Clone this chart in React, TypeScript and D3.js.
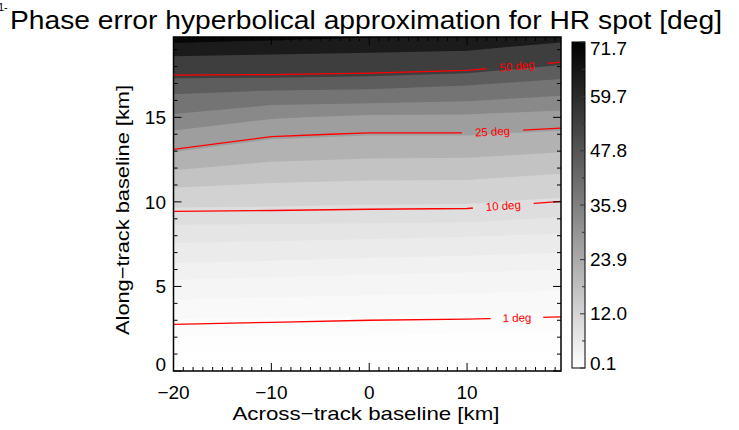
import React, { useMemo } from 'react';
import * as d3 from 'd3';

// grid nodes of the computed field (km)
const acrossNodes = [-20, -10, 0, 10, 20];
const alongNodes = [0, 1, 2, 3, 4, 5, 6, 7, 8, 9, 10, 11, 12, 13, 14, 15, 16, 17, 18, 19, 20];

// phase error [deg] along the along-track nodes, one array per across-track node
const errAtM20 = [0.1, 0.15, 0.54, 1.15, 1.98, 3.0, 4.25, 5.7, 7.1, 8.8, 11.5, 15.3, 19.5, 24.5, 29.3, 34.6, 40.3, 46.0, 54.0, 63.9, 74.4];
const errAtM10 = [0.1, 0.14, 0.5, 1.07, 1.85, 2.85, 4.05, 5.5, 7.0, 8.75, 11.3, 14.3, 17.6, 21.3, 25.6, 31.0, 37.5, 45.8, 53.8, 62.5, 72.5];
const errAt0 = [0.1, 0.13, 0.47, 1.0, 1.75, 2.7, 3.85, 5.25, 6.8, 8.7, 11.0, 13.9, 17.0, 20.5, 24.6, 29.5, 37.0, 45.2, 53.0, 61.5, 70.5];
const errAt10 = [0.1, 0.12, 0.44, 0.95, 1.66, 2.6, 3.7, 5.05, 6.6, 8.6, 10.9, 13.8, 16.8, 20.4, 24.6, 29.4, 36.0, 43.2, 52.0, 60.5, 69.0];
const errAt20 = [0.1, 0.11, 0.4, 0.86, 1.53, 2.41, 3.49, 4.79, 6.28, 7.98, 9.89, 12.56, 15.7, 19.2, 23.2, 28.1, 33.8, 40.4, 47.6, 55.9, 65.0];

// grey fill levels and labelled contours
const bandLevels = [0.15, 0.55, 1.2, 2.2, 3.5, 4.8, 6.5, 8.2, 10.6, 14.7, 19, 24.3, 30.5, 35.7, 42.4, 48.5, 60, 68];
const lineLevels = [1, 10, 25, 50];
const lineLabels = ['1 deg', '10 deg', '25 deg', '50 deg'];
const labelAcross = [15.1, 13.7, 12.6, 15.1];

const xDomain = [-20, 19.6];
const yDomain = [0, 19.75];
const xTicks = [-20, -10, 0, 10];
const yTicks = [0, 5, 10, 15];
const cbDomain = [0.1, 71.7];
const cbTicks = [0.1, 12.0, 23.9, 35.9, 47.8, 59.7, 71.7];

const W = 739;
const H = 430;
const PLOT = { left: 173.5, right: 561, top: 37, bottom: 371 };
const CB = { left: 572, right: 585, top: 42, bottom: 368 };
const FONT = 'Liberation Sans, Arial, sans-serif';

export default function App() {
  const xScale = d3.scaleLinear().domain(xDomain).range([PLOT.left, PLOT.right]);
  const yScale = d3.scaleLinear().domain(yDomain).range([PLOT.bottom, PLOT.top]);
  const grey = d3.scaleLinear<string>().domain(cbDomain).range(['#ffffff', '#000000']).clamp(true);
  const cbScale = d3.scaleLinear().domain(cbDomain).range([CB.bottom, CB.top]);

  const nx = acrossNodes.length;
  const ny = alongNodes.length;
  const stepX = acrossNodes[1] - acrossNodes[0];
  const stepY = alongNodes[1] - alongNodes[0];
  const gridX = (c: number) => acrossNodes[0] + (c - 0.5) * stepX;
  const gridY = (c: number) => alongNodes[0] + (c - 0.5) * stepY;

  const values = useMemo(() => {
    const cols = [errAtM20, errAtM10, errAt0, errAt10, errAt20];
    const out: number[] = [];
    alongNodes.forEach((_, j) => cols.forEach((c) => out.push(c[j])));
    return out;
  }, []);

  const path = d3.geoPath(
    d3.geoTransform({
      point(x: number, y: number) {
        (this as any).stream.point(xScale(gridX(x)), yScale(gridY(y)));
      },
    })
  );

  const bands = d3.contours().size([nx, ny]).thresholds(bandLevels)(values);
  const lines = d3.contours().size([nx, ny]).thresholds(lineLevels)(values);

  // find label anchor on each contour line
  const labels = lines.map((c, i) => {
    const lx = labelAcross[i];
    let best: any = null;
    c.coordinates.forEach((poly) =>
      poly.forEach((ring) => {
        for (let k = 0; k < ring.length - 1; k++) {
          let a = [gridX(ring[k][0]), gridY(ring[k][1])];
          let b = [gridX(ring[k + 1][0]), gridY(ring[k + 1][1])];
          if (a[1] < -0.4 || b[1] < -0.4 || a[1] > 20.4 || b[1] > 20.4) continue;
          if (a[0] === b[0]) continue;
          if ((a[0] - lx) * (b[0] - lx) > 0) continue;
          if (a[0] > b[0]) [a, b] = [b, a];
          const t = (lx - a[0]) / (b[0] - a[0]);
          const y = a[1] + t * (b[1] - a[1]);
          const ang =
            (Math.atan2(yScale(b[1]) - yScale(a[1]), xScale(b[0]) - xScale(a[0])) * 180) / Math.PI;
          best = { px: xScale(lx), py: yScale(y), ang };
        }
      })
    );
    return { ...best, text: lineLabels[i], gap: lineLabels[i].length * 8.5 + 10 };
  });

  const xMinor = d3.range(-20, 20, 1);
  const yMinor = d3.range(0, 20, 1);

  return (
    <svg width={W} height={H} style={{ position: 'absolute', left: 0, top: 0 }} fontFamily={FONT}>
      <defs>
        <clipPath id="plotClip">
          <rect x={PLOT.left} y={PLOT.top} width={PLOT.right - PLOT.left} height={PLOT.bottom - PLOT.top} />
        </clipPath>
        <mask id="gapMask" maskUnits="userSpaceOnUse" x={0} y={0} width={W} height={H}>
          <rect width={W} height={H} fill="white" />
          {labels.map((l, i) => (
            <rect
              key={i}
              x={-l.gap / 2}
              y={-6}
              width={l.gap}
              height={12}
              fill="black"
              transform={`translate(${l.px},${l.py}) rotate(${l.ang})`}
            />
          ))}
        </mask>
        <linearGradient id="cbGrad" x1="0" y1="1" x2="0" y2="0">
          <stop offset="0%" stopColor="#ffffff" />
          <stop offset="100%" stopColor="#000000" />
        </linearGradient>
      </defs>

      <text x={-2} y={11} fontSize={11} fill="#000">1-</text>
      <text x={10} y={29} fontSize={26} textLength={712} lengthAdjust="spacingAndGlyphs" fill="#000">
        Phase error hyperbolical approximation for HR spot [deg]
      </text>

      <g clipPath="url(#plotClip)">
        <rect
          x={PLOT.left}
          y={PLOT.top}
          width={PLOT.right - PLOT.left}
          height={PLOT.bottom - PLOT.top}
          fill={grey((cbDomain[0] + bandLevels[0]) / 2)}
        />
        {bands.map((b, i) => {
          const hi = i + 1 < bandLevels.length ? bandLevels[i + 1] : cbDomain[1];
          return <path key={i} d={path(b as any) || ''} fill={grey((b.value + hi) / 2)} stroke="none" />;
        })}
        <g mask="url(#gapMask)">
          {lines.map((c, i) => (
            <path key={i} d={path(c as any) || ''} fill="none" stroke="#ff0000" strokeWidth={1.3} />
          ))}
        </g>
        {labels.map((l, i) => (
          <text
            key={i}
            transform={`translate(${l.px},${l.py}) rotate(${l.ang})`}
            textAnchor="middle"
            dy="0.35em"
            fontSize={11.5}
            fill="#ff0000"
          >
            {l.text}
          </text>
        ))}
      </g>

      {/* frame and ticks */}
      <rect
        x={PLOT.left}
        y={PLOT.top}
        width={PLOT.right - PLOT.left}
        height={PLOT.bottom - PLOT.top}
        fill="none"
        stroke="#000"
        strokeWidth={1.5}
      />
      {xMinor.map((v) => {
        const len = xTicks.includes(v) ? 8 : 4;
        const x = xScale(v);
        return (
          <g key={'x' + v} stroke="#000" strokeWidth={1}>
            <line x1={x} x2={x} y1={PLOT.bottom} y2={PLOT.bottom - len} />
            <line x1={x} x2={x} y1={PLOT.top} y2={PLOT.top + len} />
          </g>
        );
      })}
      {yMinor.map((v) => {
        const len = yTicks.includes(v) ? 8 : 4;
        const y = yScale(v);
        return (
          <g key={'y' + v} stroke="#000" strokeWidth={1}>
            <line x1={PLOT.left} x2={PLOT.left + len} y1={y} y2={y} />
            <line x1={PLOT.right} x2={PLOT.right - len} y1={y} y2={y} />
          </g>
        );
      })}
      {xTicks.map((v) => (
        <text key={'xl' + v} x={xScale(v)} y={399} textAnchor="middle" fontSize={19} fill="#000">
          {v < 0 ? '\u2212' + Math.abs(v) : v}
        </text>
      ))}
      {yTicks.map((v) => (
        <text
          key={'yl' + v}
          x={166}
          y={Math.min(yScale(v), PLOT.bottom - 7)}
          dy="0.35em"
          textAnchor="end"
          fontSize={19}
          fill="#000"
        >
          {v}
        </text>
      ))}
      <text x={366} y={420} textAnchor="middle" fontSize={19} textLength={267} lengthAdjust="spacingAndGlyphs" fill="#000">
        Across{'\u2212'}track baseline [km]
      </text>
      <text
        transform={`translate(129,210) rotate(-90)`}
        textAnchor="middle"
        fontSize={19}
        textLength={250}
        lengthAdjust="spacingAndGlyphs"
        fill="#000"
      >
        Along{'\u2212'}track baseline [km]
      </text>

      {/* colour bar */}
      <rect x={CB.left} y={CB.top} width={CB.right - CB.left} height={CB.bottom - CB.top} fill="url(#cbGrad)" stroke="#000" strokeWidth={1} />
      {cbTicks.map((v, i) => {
        const y = cbScale(v);
        const next = i + 1 < cbTicks.length ? cbScale((v + cbTicks[i + 1]) / 2) : null;
        return (
          <g key={'cb' + i} stroke="#333" strokeWidth={1}>
            <line x1={CB.right} x2={CB.right - 5} y1={y} y2={y} />
            {next !== null && <line x1={CB.right} x2={CB.right - 3} y1={next} y2={next} />}
          </g>
        );
      })}
      {cbTicks.map((v, i) => (
        <text
          key={'cbl' + i}
          x={590}
          y={Math.max(CB.top + 6, Math.min(CB.bottom - 5, cbScale(v)))}
          dy="0.35em"
          fontSize={19}
          fill="#000"
        >
          {v.toFixed(1)}
        </text>
      ))}
    </svg>
  );
}
